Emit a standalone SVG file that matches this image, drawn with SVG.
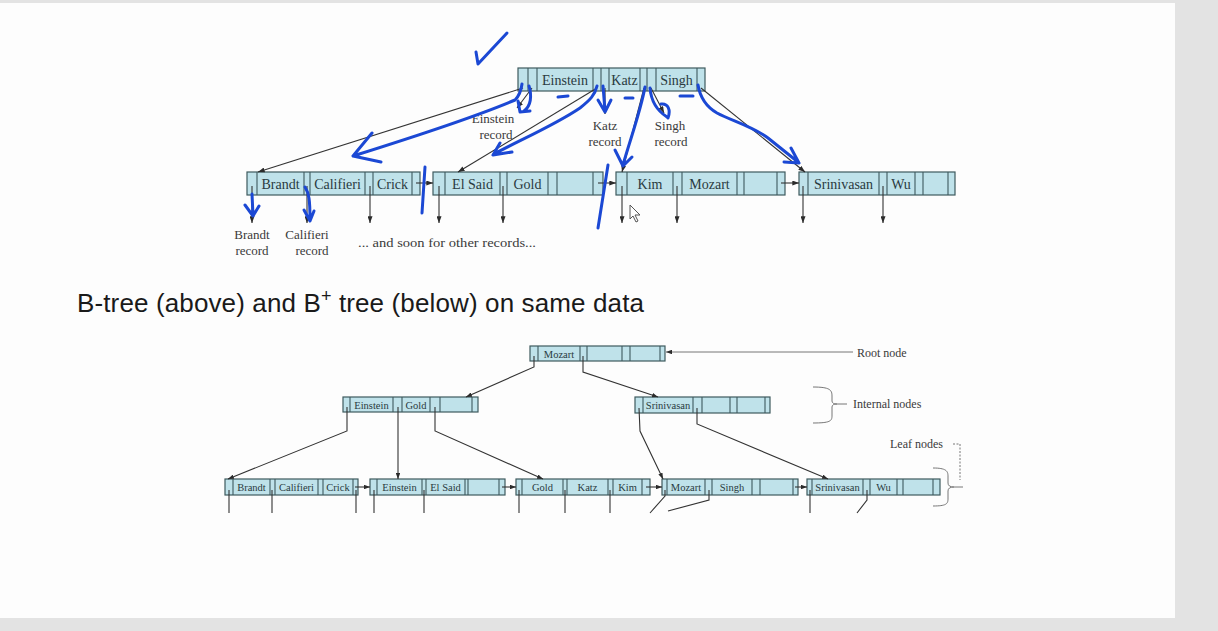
<svg xmlns="http://www.w3.org/2000/svg" width="1218" height="631" viewBox="0 0 1218 631">
<defs>
<marker id="ah" viewBox="0 0 8 6" refX="8" refY="3" markerWidth="7" markerHeight="5" markerUnits="userSpaceOnUse" orient="auto"><path d="M0,0 L8,3 L0,6 Z" fill="#2b2b2b"/></marker>
<marker id="ahs" viewBox="0 0 8 6" refX="8" refY="3" markerWidth="6" markerHeight="4.5" markerUnits="userSpaceOnUse" orient="auto"><path d="M0,0 L8,3 L0,6 Z" fill="#2b2b2b"/></marker>
<style>
.cell{fill:#bfe2ea;stroke:#3e5a5e;stroke-width:1.2}
.div{stroke:#3e5a5e;stroke-width:1.1}
.k{font-family:"Liberation Serif","DejaVu Serif",serif;font-size:14px;fill:#2a3a40;text-anchor:middle}
.ks{font-family:"Liberation Serif","DejaVu Serif",serif;font-size:10.5px;fill:#2a3a40;text-anchor:middle}
.lbl{font-family:"Liberation Serif","DejaVu Serif",serif;font-size:13px;fill:#3a3a3a;text-anchor:middle}
.lbs{font-family:"Liberation Serif","DejaVu Serif",serif;font-size:12px;fill:#3a3a3a}
.ln{fill:none;stroke:#333;stroke-width:1.1}
.lnt{fill:none;stroke:#777;stroke-width:1}
.blue{fill:none;stroke:#1b48d4;stroke-width:3;stroke-linecap:round;stroke-linejoin:round}
</style>
</defs>
<rect x="0" y="0" width="1218" height="631" fill="#e3e3e3"/>
<rect x="0" y="3" width="1175" height="615" fill="#fdfdfd"/>

<!-- B-tree -->
<g id="b-root">
<rect class="cell" x="518" y="68" width="187" height="23"/>
<path class="div" d="M528,68V91M537,68V91M593,68V91M601,68V91M609,68V91M640,68V91M647,68V91M656,68V91M697,68V91"/>
<text class="k" x="565" y="85">Einstein</text><text class="k" x="624.5" y="85">Katz</text><text class="k" x="676.5" y="85">Singh</text>
</g>
<g id="b-leaf1">
<rect class="cell" x="247" y="172" width="173" height="23"/>
<path class="div" d="M257,172V195M304,172V195M310,172V195M365,172V195M373,172V195M412,172V195"/>
<text class="k" x="280.5" y="189">Brandt</text><text class="k" x="337.5" y="189">Califieri</text><text class="k" x="392.5" y="189">Crick</text>
</g>
<g id="b-leaf2">
<rect class="cell" x="433" y="172" width="170" height="23"/>
<path class="div" d="M445,172V195M500,172V195M507,172V195M548,172V195M557,172V195M593,172V195"/>
<text class="k" x="472.5" y="189">El Said</text><text class="k" x="527.5" y="189">Gold</text>
</g>
<g id="b-leaf3">
<rect class="cell" x="616" y="172" width="169" height="23"/>
<path class="div" d="M627,172V195M673,172V195M682,172V195M737,172V195M744,172V195M777,172V195"/>
<text class="k" x="650" y="189">Kim</text><text class="k" x="709.5" y="189">Mozart</text>
</g>
<g id="b-leaf4">
<rect class="cell" x="799" y="172" width="156" height="23"/>
<path class="div" d="M808,172V195M879,172V195M887,172V195M915,172V195M923,172V195M948,172V195"/>
<text class="k" x="843.5" y="189">Srinivasan</text><text class="k" x="901" y="189">Wu</text>
</g>
<g id="b-labels">
<text class="lbl" x="493" y="123">Einstein</text><text class="lbl" x="496" y="139">record</text>
<text class="lbl" x="605" y="130">Katz</text><text class="lbl" x="605" y="146">record</text>
<text class="lbl" x="670" y="130">Singh</text><text class="lbl" x="671" y="146">record</text>
<text class="lbl" x="252" y="239">Brandt</text><text class="lbl" x="252" y="255">record</text>
<text class="lbl" x="307" y="239">Califieri</text><text class="lbl" x="312" y="255">record</text>
<text class="lbl" x="447" y="247" textLength="178" lengthAdjust="spacingAndGlyphs">... and soon for other records...</text>
</g>
<g id="b-connectors">
<path class="ln" marker-end="url(#ah)" d="M523,88 L258,172"/>
<path class="ln" marker-end="url(#ah)" d="M532,88 L517,108"/>
<path class="ln" marker-end="url(#ah)" d="M597,88 L458,172"/>
<path class="ln" marker-end="url(#ah)" d="M605,88 L605,114"/>
<path class="ln" marker-end="url(#ah)" d="M644,88 L622,172"/>
<path class="ln" marker-end="url(#ah)" d="M651,88 L664,113"/>
<path class="ln" marker-end="url(#ah)" d="M701,88 L805,172"/>
<path class="ln" marker-end="url(#ah)" d="M416,183 L433,183"/>
<path class="ln" marker-end="url(#ah)" d="M598,183 L616,183"/>
<path class="ln" marker-end="url(#ah)" d="M781,183 L799,183"/>
<path class="ln" marker-end="url(#ah)" d="M252,186 V223"/>
<path class="ln" marker-end="url(#ah)" d="M307,186 V223"/>
<path class="ln" marker-end="url(#ah)" d="M370,186 V223"/>
<path class="ln" marker-end="url(#ah)" d="M439,186 V223"/>
<path class="ln" marker-end="url(#ah)" d="M503,186 V223"/>
<path class="ln" marker-end="url(#ah)" d="M622,186 V223"/>
<path class="ln" marker-end="url(#ah)" d="M677,186 V223"/>
<path class="ln" marker-end="url(#ah)" d="M803,186 V223"/>
<path class="ln" marker-end="url(#ah)" d="M883,186 V223"/>
</g>

<text x="77" y="312" font-family="'Liberation Sans','DejaVu Sans',sans-serif" font-size="26" fill="#1a1a1a" textLength="567" lengthAdjust="spacing">B-tree (above) and B<tspan font-size="18" dy="-10">+</tspan><tspan dy="10"> tree (below) on same data</tspan></text>

<!-- B+ tree -->
<g id="p-root">
<rect class="cell" x="530" y="346" width="135" height="15"/>
<path class="div" d="M538,346V361M580,346V361M587,346V361M622,346V361M630,346V361M660,346V361"/>
<text class="ks" x="559" y="357.5">Mozart</text>
</g>
<g id="p-int1">
<rect class="cell" x="343" y="397" width="135" height="15"/>
<path class="div" d="M350,397V412M393,397V412M402,397V412M430,397V412M440,397V412M472,397V412"/>
<text class="ks" x="371.5" y="408.5">Einstein</text><text class="ks" x="416" y="408.5">Gold</text>
</g>
<g id="p-int2">
<rect class="cell" x="635" y="397" width="135" height="16"/>
<path class="div" d="M643,397V413M693,397V413M702,397V413M730,397V413M737,397V413M765,397V413"/>
<text class="ks" x="668" y="409">Srinivasan</text>
</g>
<g id="p-leaf1">
<rect class="cell" x="225" y="479" width="133" height="16"/>
<path class="div" d="M233,479V495M270,479V495M275,479V495M318,479V495M323,479V495M353,479V495"/>
<text class="ks" x="251.5" y="491">Brandt</text><text class="ks" x="296.5" y="491">Califieri</text><text class="ks" x="338" y="491">Crick</text>
</g>
<g id="p-leaf2">
<rect class="cell" x="370" y="479" width="135" height="16"/>
<path class="div" d="M377,479V495M422,479V495M426,479V495M465,479V495M468,479V495M499,479V495"/>
<text class="ks" x="399.5" y="491">Einstein</text><text class="ks" x="445.5" y="491">El Said</text>
</g>
<g id="p-leaf3">
<rect class="cell" x="516" y="479" width="134" height="16"/>
<path class="div" d="M522,479V495M563,479V495M567,479V495M608,479V495M613,479V495M642,479V495"/>
<text class="ks" x="542.5" y="491">Gold</text><text class="ks" x="587.5" y="491">Katz</text><text class="ks" x="627.5" y="491">Kim</text>
</g>
<g id="p-leaf4">
<rect class="cell" x="662" y="479" width="136" height="16"/>
<path class="div" d="M667,479V495M705,479V495M712,479V495M752,479V495M760,479V495M793,479V495"/>
<text class="ks" x="686" y="491">Mozart</text><text class="ks" x="732" y="491">Singh</text>
</g>
<g id="p-leaf5">
<rect class="cell" x="807" y="479" width="133" height="16"/>
<path class="div" d="M812,479V495M863,479V495M870,479V495M897,479V495M903,479V495M933,479V495"/>
<text class="ks" x="837.5" y="491">Srinivasan</text><text class="ks" x="883.5" y="491">Wu</text>
</g>
<g id="p-labels">
<text class="lbs" x="857" y="357">Root node</text>
<text class="lbs" x="853" y="408">Internal nodes</text>
<text class="lbs" x="890" y="448">Leaf nodes</text>
<path class="lnt" d="M813,387 C830,387 832,390 832,396 V401 Q832,404 837,404 H847 M837,404 Q832,404 832,407 V416 C832,421 830,423 813,423"/>
<path class="lnt" stroke-dasharray="2,1.5" d="M953,444 H960 V480"/>
<path class="lnt" d="M933,468 C946,468 948,471 948,476 V483 Q948,487 954,487 H963 M954,487 Q948,487 948,491 V499 C948,504 946,506 933,506"/>
</g>
<g id="p-connectors">
<path class="lnt" marker-end="url(#ahs)" d="M853,352 L666,352"/>
<path class="ln" marker-end="url(#ahs)" d="M534,356 L534,367 L466,397"/>
<path class="ln" marker-end="url(#ahs)" d="M583,356 L583,372 L658,397"/>
<path class="ln" marker-end="url(#ahs)" d="M347,407 L347,431 L228,479"/>
<path class="ln" marker-end="url(#ahs)" d="M398,407 L398,479"/>
<path class="ln" marker-end="url(#ahs)" d="M435,407 L435,431 L543,479"/>
<path class="ln" marker-end="url(#ahs)" d="M639,408 L640,431 L663,479"/>
<path class="ln" marker-end="url(#ahs)" d="M697,408 L697,424 L828,479"/>
<path class="ln" marker-end="url(#ahs)" d="M355,487 L370,487"/>
<path class="ln" marker-end="url(#ahs)" d="M502,487 L516,487"/>
<path class="ln" marker-end="url(#ahs)" d="M646,487 L662,487"/>
<path class="ln" marker-end="url(#ahs)" d="M795,487 L807,487"/>
<path class="ln" d="M229,490V513M272,490V513M356,490V513M374,490V513M424,490V513M519,490V513M565,490V513M610,490V513M665,490V496L650,513M709,490V500L668,511M810,490V513M867,490V500L857,513"/>
</g>

<!-- handwritten annotations -->
<g id="annotations">
<path class="blue" d="M476,52 L478,64 L507,33"/>
<path class="blue" d="M522,84 C521,92 519,96 515,100 C480,115 420,135 353,156 M372,133 L353,156 L381,162"/>
<path class="blue" d="M529,86 C532,96 531,106 524,111 M518,101 L520,112 L530,111"/>
<path class="blue" d="M597,86 C595,95 590,100 580,108 C555,125 520,140 494,154 M500,143 L493,155 L512,152"/>
<path class="blue" d="M603,86 L605,111 M598,100 L605,112 L611,100"/>
<path class="blue" d="M558,97 L568,96 M625,98 L633,98 M680,96 L693,96"/>
<path class="blue" d="M645,87 C641,110 630,140 623,165 M615,150 L623,166 L632,157"/>
<path class="blue" d="M650,88 C651,100 656,110 667,117 M661,104 C668,103 671,110 668,118"/>
<path class="blue" d="M698,85 C700,97 705,106 717,113 C732,121 752,126 768,138 L798,162 M791,148 L799,163 L784,162"/>
<path class="blue" d="M252,194 L253,215 M245,205 L253,216 L259,206"/>
<path class="blue" d="M305,187 C309,193 310,200 310,220 M304,210 L310,221 L314,211"/>
<path class="blue" d="M425,167 L422,213"/>
<path class="blue" d="M608,165 L598,228"/>
</g>
<path d="M630,205 L630,219 L633,216 L636,222 L638,221 L635,215 L640,215 Z" fill="#fff" stroke="#555" stroke-width="1"/>
</svg>
